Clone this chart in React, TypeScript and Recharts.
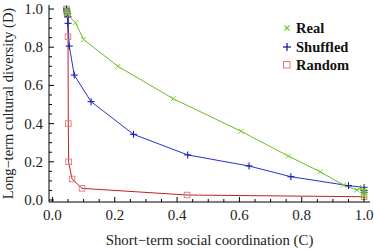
import React from "react";
import { LineChart, Line, XAxis, YAxis } from "recharts";

const realX = [0.045, 0.046, 0.048, 0.05, 0.052, 0.074, 0.1, 0.21, 0.388, 0.605, 0.757, 0.859, 0.934, 0.977, 0.995, 1.0, 1.0, 1.0, 1.0, 1.0];
const realY = [1.0, 0.99, 0.985, 0.975, 0.965, 0.928, 0.84, 0.7, 0.53, 0.36, 0.23, 0.148, 0.078, 0.052, 0.065, 0.055, 0.045, 0.035, 0.027, 0.02];

const shufX = [0.045, 0.046, 0.048, 0.05, 0.05, 0.054, 0.07, 0.124, 0.26, 0.434, 0.631, 0.765, 0.95, 1.0, 1.0, 1.0];
const shufY = [1.0, 0.99, 0.975, 0.96, 0.925, 0.806, 0.654, 0.515, 0.344, 0.236, 0.178, 0.122, 0.075, 0.066, 0.05, 0.04];

const randX = [0.045, 0.046, 0.047, 0.048, 0.05, 0.051, 0.052, 0.063, 0.095, 0.432, 1.0];
const randY = [1.0, 0.99, 0.98, 0.97, 0.855, 0.4, 0.2, 0.11, 0.061, 0.026, 0.017];

const tickValues = [0, 0.05, 0.1, 0.15, 0.2, 0.25, 0.3, 0.35, 0.4, 0.45, 0.5, 0.55, 0.6, 0.65, 0.7, 0.75, 0.8, 0.85, 0.9, 0.95, 1.0];

const seriesNames = ["Real", "Shuffled", "Random"];

const toPoints = (xs: number[], ys: number[]) => xs.map((x, i) => ({ x, y: ys[i] }));
const realData = toPoints(realX, realY);
const shufData = toPoints(shufX, shufY);
const randData = toPoints(randX, randY);

const GREEN_LINE = "#6cbb22";
const GREEN_MARK = "#7ccc2a";
const BLUE_LINE = "#2233cc";
const BLUE_MARK = "#1a1ab8";
const RED_LINE = "#c42020";
const RED_MARK = "#e07878";

const FONT = "'Liberation Serif', 'DejaVu Serif', serif";

const isMajor = (v: number) => Math.abs(v * 5 - Math.round(v * 5)) < 1e-6;

const BottomTick = (props: any) => {
  const { x, y, payload } = props;
  const v = payload.value;
  const major = isMajor(v);
  return (
    <g>
      <line x1={x} x2={x} y1={y} y2={y - (major ? 5 : 3)} stroke="#000" strokeWidth={1} />
      {major && (
        <text x={x} y={y + 18} textAnchor="middle" fontFamily={FONT} fontSize={15} fill="#222">
          {v.toFixed(1)}
        </text>
      )}
    </g>
  );
};
const TopTick = (props: any) => {
  const { x, y, payload } = props;
  const major = isMajor(payload.value);
  return <line x1={x} x2={x} y1={y} y2={y + (major ? 5 : 3)} stroke="#000" strokeWidth={1} />;
};
const LeftTick = (props: any) => {
  const { x, y, payload } = props;
  const v = payload.value;
  const major = isMajor(v);
  return (
    <g>
      <line x1={x} x2={x + (major ? 5 : 3)} y1={y} y2={y} stroke="#000" strokeWidth={1} />
      {major && (
        <text x={x - 6} y={y + 5} textAnchor="end" fontFamily={FONT} fontSize={15} fill="#222">
          {v.toFixed(1)}
        </text>
      )}
    </g>
  );
};
const RightTick = (props: any) => {
  const { x, y, payload } = props;
  const major = isMajor(payload.value);
  return <line x1={x} x2={x - (major ? 5 : 3)} y1={y} y2={y} stroke="#000" strokeWidth={1} />;
};

const CrossDot = (props: any) => {
  const { cx, cy, index } = props;
  if (cx == null || cy == null) return <g key={index} />;
  const s = 2.5;
  return (
    <g key={index}>
      <line x1={cx - s} y1={cy - s} x2={cx + s} y2={cy + s} stroke={GREEN_MARK} strokeWidth={1} />
      <line x1={cx - s} y1={cy + s} x2={cx + s} y2={cy - s} stroke={GREEN_MARK} strokeWidth={1} />
    </g>
  );
};
const PlusDot = (props: any) => {
  const { cx, cy, index } = props;
  if (cx == null || cy == null) return <g key={index} />;
  const s = 3.5;
  return (
    <g key={index}>
      <line x1={cx - s} y1={cy} x2={cx + s} y2={cy} stroke={BLUE_MARK} strokeWidth={1.1} />
      <line x1={cx} y1={cy - s} x2={cx} y2={cy + s} stroke={BLUE_MARK} strokeWidth={1.1} />
    </g>
  );
};
const SquareDot = (props: any) => {
  const { cx, cy, index } = props;
  if (cx == null || cy == null) return <g key={index} />;
  const s = 2.8;
  return <rect key={index} x={cx - s} y={cy - s} width={2 * s} height={2 * s} fill="none" stroke={RED_MARK} strokeWidth={0.9} />;
};

const LegendBox = () => {
  const marks = [
    <svg width={10} height={10} key="a">
      <line x1={2.5} y1={2.5} x2={7.5} y2={7.5} stroke={GREEN_MARK} strokeWidth={1.3} />
      <line x1={2.5} y1={7.5} x2={7.5} y2={2.5} stroke={GREEN_MARK} strokeWidth={1.3} />
    </svg>,
    <svg width={10} height={10} key="b">
      <line x1={1} y1={5} x2={9} y2={5} stroke={BLUE_MARK} strokeWidth={1.3} />
      <line x1={5} y1={1} x2={5} y2={9} stroke={BLUE_MARK} strokeWidth={1.3} />
    </svg>,
    <svg width={10} height={10} key="c">
      <rect x={1.5} y={1.5} width={6.5} height={6.5} fill="none" stroke={RED_MARK} strokeWidth={1} />
    </svg>,
  ];
  return (
    <div style={{ position: "absolute", left: 282, top: 19, fontFamily: FONT, fontWeight: "bold", fontSize: 14.5, color: "#111", lineHeight: "18.5px" }}>
      {seriesNames.map((n, i) => (
        <div key={n} style={{ display: "flex", alignItems: "center", height: 18.5 }}>
          <div style={{ width: 14, display: "flex", alignItems: "center" }}>{marks[i]}</div>
          <span>{n}</span>
        </div>
      ))}
    </div>
  );
};

export default function App() {
  return (
    <div style={{ position: "absolute", left: 0, top: 0, width: 374, height: 249, background: "#fff" }}>
      <LineChart width={374} height={249} margin={{ top: 5, right: 4, bottom: 0, left: 0 }}>
        <XAxis
          dataKey="x"
          type="number"
          domain={[-0.011, 1.019]}
          allowDataOverflow
          ticks={tickValues}
          interval={0}
          tickSize={0}
          tickMargin={0}
          height={47}
          tick={<BottomTick />}
          axisLine={{ stroke: "#000", strokeWidth: 1 }}
          label={{ value: "Short\u2212term social coordination (C)", position: "insideBottom", offset: 4, fontFamily: FONT, fontSize: 14.8, fill: "#222" }}
        />
        <XAxis
          xAxisId="top"
          dataKey="x"
          orientation="top"
          type="number"
          domain={[-0.011, 1.019]}
          allowDataOverflow
          ticks={tickValues}
          interval={0}
          tickSize={0}
          tickMargin={0}
          height={0}
          tick={<TopTick />}
          axisLine={{ stroke: "#000", strokeWidth: 1 }}
        />
        <YAxis
          dataKey="y"
          type="number"
          domain={[-0.0105, 1.021]}
          allowDataOverflow
          ticks={tickValues}
          interval={0}
          tickSize={0}
          tickMargin={0}
          width={49}
          tick={<LeftTick />}
          axisLine={{ stroke: "#000", strokeWidth: 1 }}
          label={{ value: "Long\u2212term cultural diversity (D)", angle: -90, position: "insideLeft", offset: 8, fontFamily: FONT, fontSize: 14.5, fill: "#222", style: { textAnchor: "middle" } }}
        />
        <YAxis
          yAxisId="right"
          dataKey="y"
          orientation="right"
          type="number"
          domain={[-0.0105, 1.021]}
          allowDataOverflow
          ticks={tickValues}
          interval={0}
          tickSize={0}
          tickMargin={0}
          width={0}
          tick={<RightTick />}
          axisLine={{ stroke: "#000", strokeWidth: 1 }}
        />
        <Line data={realData} xAxisId="top" yAxisId="right" dataKey="y" type="linear" stroke="none" dot={false} activeDot={false} legendType="none" isAnimationActive={false} />
        <Line data={randData} dataKey="y" name="Random" type="linear" stroke={RED_LINE} strokeWidth={1} dot={<SquareDot />} isAnimationActive={false} />
        <Line data={shufData} dataKey="y" name="Shuffled" type="linear" stroke={BLUE_LINE} strokeWidth={1} dot={<PlusDot />} isAnimationActive={false} />
        <Line data={realData} dataKey="y" name="Real" type="linear" stroke={GREEN_LINE} strokeWidth={1} dot={<CrossDot />} isAnimationActive={false} />
      </LineChart>
      <LegendBox />
    </div>
  );
}
